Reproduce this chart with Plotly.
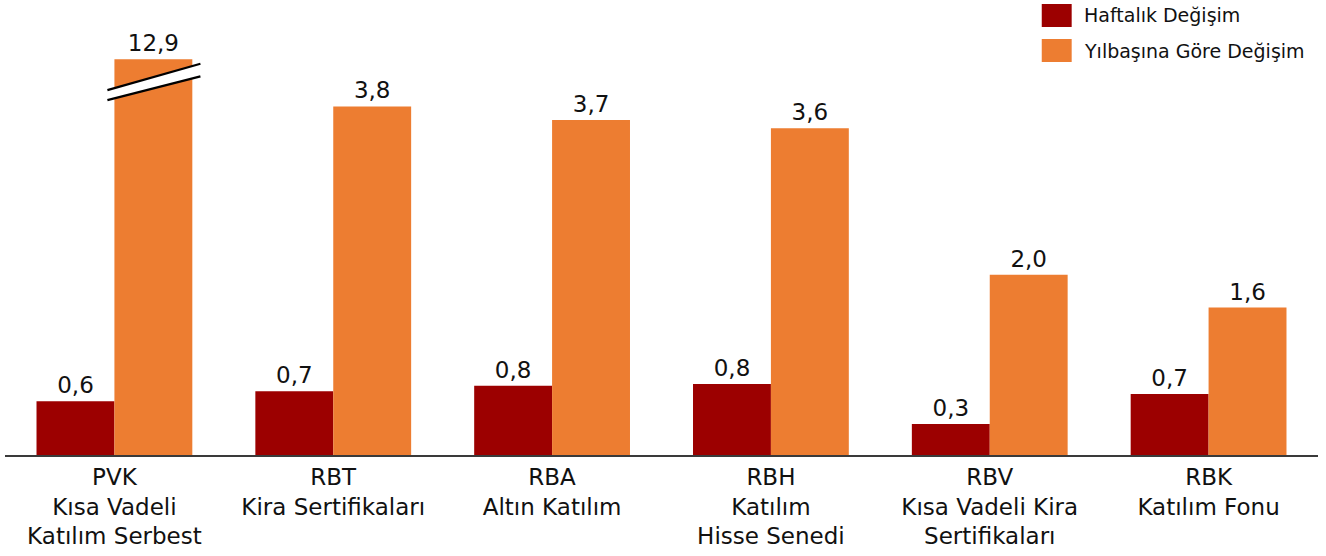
import plotly.graph_objects as go

# ---- data ----
categories = [
    "PVK<br>Kısa Vadeli<br>Katılım Serbest",
    "RBT<br>Kira Sertifikaları",
    "RBA<br>Altın Katılım",
    "RBH<br>Katılım<br>Hisse Senedi",
    "RBV<br>Kısa Vadeli Kira<br>Sertifikaları",
    "RBK<br>Katılım Fonu",
]
weekly = [0.59, 0.70, 0.76, 0.78, 0.34, 0.67]
ytd = [12.9, 3.83, 3.68, 3.59, 1.98, 1.62]
series_names = ["Haftalık Değişim", "Yılbaşına Göre Değişim"]
colors = ["#9C0000", "#ED7D31"]

# axis break: bars above this value are cut and drawn at this height
break_cap = 4.35

FONT = "DejaVu Sans"
TXT = "#111111"


def fmt(v):
    return f"{v:.1f}".replace(".", ",")


ytd_drawn = [min(v, break_cap) for v in ytd]

fig = go.Figure()
fig.add_trace(go.Bar(
    x=categories, y=weekly, name=series_names[0],
    marker=dict(color=colors[0], line=dict(width=0)),
    text=[fmt(v) for v in weekly], textposition="outside",
    textfont=dict(family=FONT, size=23, color=TXT), cliponaxis=False,
))
fig.add_trace(go.Bar(
    x=categories, y=ytd_drawn, name=series_names[1],
    marker=dict(color=colors[1], line=dict(width=0)),
    text=[fmt(v) for v in ytd], textposition="outside",
    textfont=dict(family=FONT, size=23, color=TXT), cliponaxis=False,
))

bargap = 0.288
bar_w = (1 - bargap) / 2

# break marker on every capped bar
shapes = []
for i, v in enumerate(ytd):
    if v > break_cap:
        x0 = i - 0.032
        x1 = i + bar_w + 0.037
        # two parallel slanted lines with a white band in between
        l1 = (break_cap - 0.34, break_cap - 0.05)
        l2 = (break_cap - 0.45, break_cap - 0.19)
        shapes.append(dict(
            type="path", xref="x", yref="y",
            path=f"M {x0},{l1[0]} L {x1},{l1[1]} L {x1},{l2[1]} L {x0},{l2[0]} Z",
            fillcolor="white", line=dict(width=0), layer="above",
        ))
        for (ya, yb) in (l1, l2):
            shapes.append(dict(
                type="line", xref="x", yref="y", x0=x0, y0=ya, x1=x1, y1=yb,
                line=dict(color="black", width=2.2), layer="above",
            ))

# custom legend (large swatches like the original)
annotations = []
leg_rows = [(0.9912, 0.9407), (0.9143, 0.8637)]
for (name, col, (yt, yb)) in zip(series_names, colors, leg_rows):
    shapes.append(dict(
        type="rect", xref="paper", yref="paper",
        x0=0.7896, x1=0.8124, y0=yb, y1=yt,
        fillcolor=col, line=dict(width=0),
    ))
    annotations.append(dict(
        xref="paper", yref="paper", x=0.8205, y=(yt + yb) / 2,
        xanchor="left", yanchor="middle", text=name, showarrow=False,
        font=dict(family=FONT, size=19, color=TXT),
    ))

fig.update_layout(
    width=1326, height=556,
    margin=dict(l=5, r=8, t=0, b=101),
    barmode="group", bargap=bargap, bargroupgap=0,
    plot_bgcolor="white", paper_bgcolor="white",
    showlegend=False,
    shapes=shapes, annotations=annotations,
    font=dict(family=FONT, color=TXT),
    xaxis=dict(
        showline=True, linecolor="#3a3a3a", linewidth=2,
        ticks="", showgrid=False, zeroline=False,
        tickfont=dict(family=FONT, size=23, color=TXT),
    ),
    yaxis=dict(range=[0, 5], visible=False, showgrid=False, zeroline=False),
)

fig.write_html(
    "out.html",
    config={"displayModeBar": False},
    post_script="document.body.style.margin='0';document.body.style.overflow='hidden';",
)
